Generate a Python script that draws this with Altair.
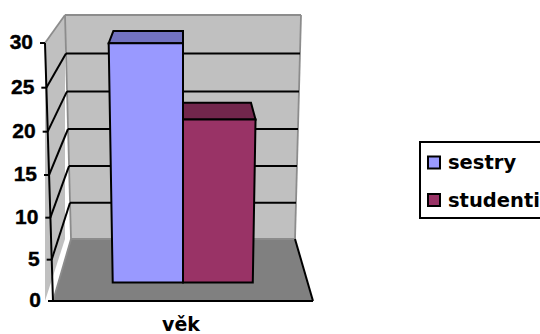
import altair as alt
import pandas as pd

# Chart values
series = ["sestry", "studenti"]
values = [29, 20]
axis_ticks = [0, 5, 10, 15, 20, 25, 30]
axis_title = "věk"

# Colours
front_colors = ["#9999FF", "#993366"]
top_colors = ["#7272C0", "#72264C"]
WALL, FLOOR, EDGE = "#C0C0C0", "#808080", "#8C8C8C"
FONT = "Liberation Sans"
WIDE_FONT = "DejaVu Sans"

# Bar footprint: across the category axis (0-1) and into the depth (0-1)
BAR_EDGES = [0.218, 0.5, 0.78]
DEPTH_FRONT, DEPTH_BACK = 0.30, 0.72


def project(u, v, z):
    """Perspective view of a box: u across, v value, z depth; returns canvas x, y."""
    y_front = 301 - 8.2 * v - 0.0133 * v * v
    y_back = 239 - 7.2 * v - 0.0089 * v * v
    left_front, right_front = 53 - 8 * v / 30, 313 + 8 * v / 30
    left_back, right_back = 71 - 6 * v / 30, 295 + 6 * v / 30
    left = left_front + (left_back - left_front) * z
    right = right_front + (right_back - right_front) * z
    return left + (right - left) * u, y_front + (y_back - y_front) * z


canvas_x = alt.Scale(domain=[0, 540], range=[0, 540])
canvas_y = alt.Scale(domain=[0, 334], range=[0, 334])


def horizontal_face(corners, fill, stroke=None, width=0):
    """Quadrilateral with two horizontal sides; corners are (u, v, z) triples."""
    pts = [project(*c) for c in corners]
    rows = [
        {"y": pts[0][1], "x": pts[0][0], "x2": pts[1][0]},
        {"y": pts[3][1], "x": pts[3][0], "x2": pts[2][0]},
    ]
    kw = {"stroke": stroke, "strokeWidth": width} if stroke else {}
    return alt.Chart(pd.DataFrame(rows)).mark_area(
        orient="horizontal", fill=fill, **kw
    ).encode(
        x=alt.X("x:Q", scale=canvas_x, axis=None),
        x2="x2:Q",
        y=alt.Y("y:Q", scale=canvas_y, axis=None),
    )


def vertical_face(corners, fill, stroke=None, width=0):
    """Quadrilateral with two vertical sides; corners are (u, v, z) triples."""
    pts = [project(*c) for c in corners]
    rows = [
        {"x": pts[0][0], "y": pts[0][1], "y2": pts[3][1]},
        {"x": pts[1][0], "y": pts[1][1], "y2": pts[2][1]},
    ]
    kw = {"stroke": stroke, "strokeWidth": width} if stroke else {}
    return alt.Chart(pd.DataFrame(rows)).mark_area(
        orient="vertical", fill=fill, **kw
    ).encode(
        x=alt.X("x:Q", scale=canvas_x, axis=None),
        y=alt.Y("y:Q", scale=canvas_y, axis=None),
        y2="y2:Q",
    )


def segments(pairs, color, width):
    """Straight lines between pairs of projected (u, v, z) points."""
    rows = []
    for a, b in pairs:
        (x, y), (x2, y2) = project(*a), project(*b)
        rows.append({"x": x, "y": y, "x2": x2, "y2": y2})
    return alt.Chart(pd.DataFrame(rows)).mark_rule(
        color=color, strokeWidth=width
    ).encode(
        x=alt.X("x:Q", scale=canvas_x, axis=None),
        x2="x2:Q",
        y=alt.Y("y:Q", scale=canvas_y, axis=None),
        y2="y2:Q",
    )


top = axis_ticks[-1]
inner = axis_ticks[1:-1]
layers = [
    # Box walls and floor
    horizontal_face([(0, top, 1), (1, top, 1), (1, 0, 1), (0, 0, 1)], WALL),
    vertical_face([(0, top, 0), (0, top, 1), (0, 0, 1), (0, 0, 0)], WALL),
    horizontal_face([(0, 0, 1), (1, 0, 1), (1, 0, 0), (0, 0, 0)], FLOOR),
    segments(
        [
            ((0, top, 0), (0, top, 1)),
            ((0, top, 1), (1, top, 1)),
            ((1, top, 1), (1, 0, 1)),
            ((0, top, 1), (0, 0, 1)),
            ((0, 0, 1), (1, 0, 1)),
            ((0, 0, 0), (0, 0, 1)),
        ],
        EDGE,
        1.8,
    ),
    # Gridlines along the back and left walls
    segments(
        [((0, v, 1), (1, v, 1)) for v in inner] + [((0, v, 0), (0, v, 1)) for v in inner],
        "#000000",
        2,
    ),
    # Front axis, floor edges and ticks
    segments(
        [
            ((0, 0, 0), (0, top, 0)),
            ((0, 0, 0), (1, 0, 0)),
            ((1, 0, 0), (1, 0, 1)),
        ],
        "#000000",
        2,
    ),
]

# Tick marks and tick labels on the front axis
tick_rows = []
for v in axis_ticks:
    x, y = project(0, v, 0)
    tick_rows.append({"x": x, "x0": x - 5, "y": y, "label": str(v), "lx": x - 12})
ticks = pd.DataFrame(tick_rows)
layers.append(
    alt.Chart(ticks).mark_rule(color="#000000", strokeWidth=2).encode(
        x=alt.X("x0:Q", scale=canvas_x, axis=None),
        x2="x:Q",
        y=alt.Y("y:Q", scale=canvas_y, axis=None),
    )
)
layers.append(
    alt.Chart(ticks).mark_text(
        font=FONT, fontWeight="bold", fontSize=21, align="right", baseline="middle",
        color="#000000", stroke="#000000", strokeWidth=0.4,
    ).encode(
        x=alt.X("lx:Q", scale=canvas_x, axis=None),
        y=alt.Y("y:Q", scale=canvas_y, axis=None),
        text="label:N",
    )
)

# Bars: top faces first, then the front faces
for i, (name, v) in enumerate(zip(series, values)):
    u0, u1 = BAR_EDGES[i], BAR_EDGES[i + 1]
    layers.append(
        horizontal_face(
            [(u0, v, DEPTH_BACK), (u1, v, DEPTH_BACK), (u1, v, DEPTH_FRONT), (u0, v, DEPTH_FRONT)],
            top_colors[i], "#000000", 2,
        )
    )
    layers.append(
        horizontal_face(
            [(u0, v, DEPTH_FRONT), (u1, v, DEPTH_FRONT), (u1, 0, DEPTH_FRONT), (u0, 0, DEPTH_FRONT)],
            front_colors[i], "#000000", 2,
        )
    )

# Category title below the box
layers.append(
    alt.Chart(pd.DataFrame({"x": [181], "y": [325], "t": [axis_title]})).mark_text(
        font=WIDE_FONT, fontWeight="bold", fontSize=19, align="center", baseline="middle", color="#000000"
    ).encode(
        x=alt.X("x:Q", scale=canvas_x, axis=None),
        y=alt.Y("y:Q", scale=canvas_y, axis=None),
        text="t:N",
    )
)

# Legend frame, swatches and labels
legend_box = pd.DataFrame({"x": [420], "x2": [560], "y": [142], "y2": [218]})
layers.append(
    alt.Chart(legend_box).mark_rect(fill="#FFFFFF", stroke="#000000", strokeWidth=2).encode(
        x=alt.X("x:Q", scale=canvas_x, axis=None),
        x2="x2:Q",
        y=alt.Y("y:Q", scale=canvas_y, axis=None),
        y2="y2:Q",
    )
)
legend = pd.DataFrame(
    {
        "name": series,
        "color": front_colors,
        "x": [428, 428],
        "x2": [440, 440],
        "y": [156.5, 194],
        "y2": [168.5, 206],
        "tx": [448, 448],
        "ty": [163, 200.5],
    }
)
layers.append(
    alt.Chart(legend).mark_rect(stroke="#000000", strokeWidth=2).encode(
        x=alt.X("x:Q", scale=canvas_x, axis=None),
        x2="x2:Q",
        y=alt.Y("y:Q", scale=canvas_y, axis=None),
        y2="y2:Q",
        fill=alt.Fill("color:N", scale=None),
    )
)
layers.append(
    alt.Chart(legend).mark_text(
        font=WIDE_FONT, fontWeight="bold", fontSize=19.5, align="left", baseline="middle", color="#000000"
    ).encode(
        x=alt.X("tx:Q", scale=canvas_x, axis=None),
        y=alt.Y("ty:Q", scale=canvas_y, axis=None),
        text="name:N",
    )
)

chart = (
    alt.layer(*layers)
    .properties(width=540, height=334, padding=0, autosize=alt.AutoSizeParams(type="none"), background="#FFFFFF")
    .configure_view(stroke=None)
)

chart.save("out.html", embed_options={"renderer": "svg", "actions": False})
